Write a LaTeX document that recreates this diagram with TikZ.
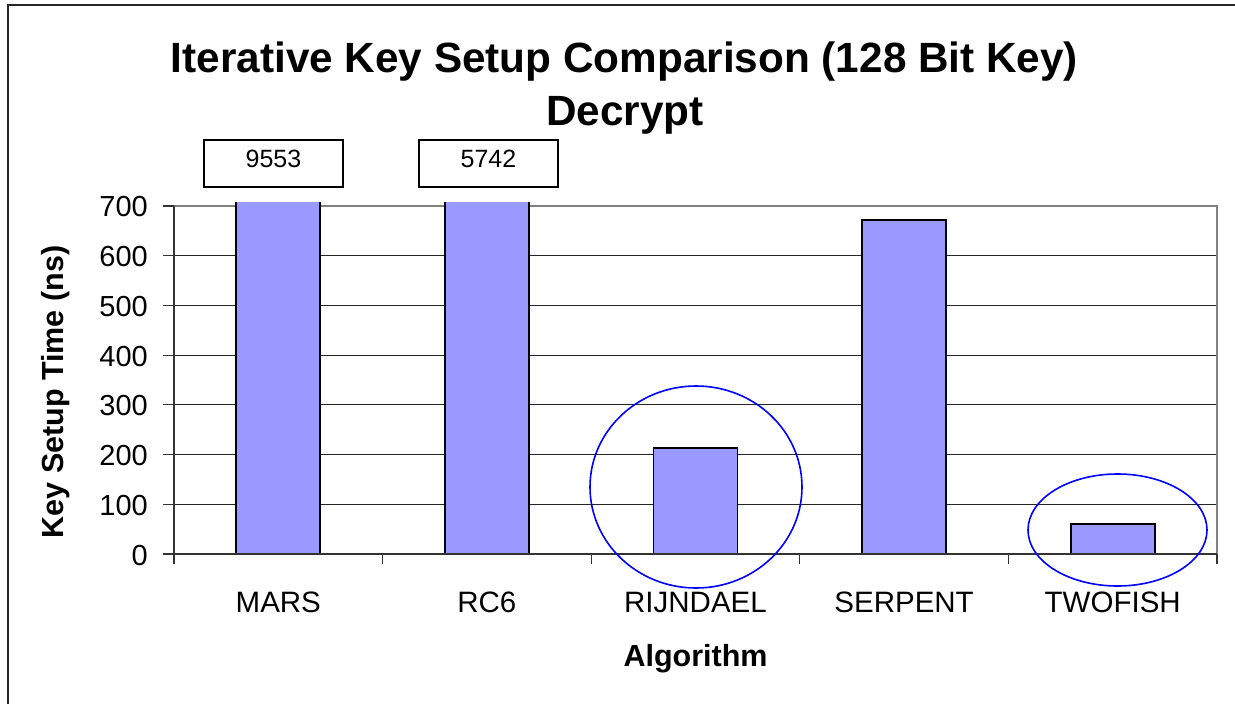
\documentclass[tikz,border=0pt]{standalone}
\usepackage{fontspec}
\setmainfont{Liberation Sans}
\definecolor{barfill}{HTML}{9999FF}
\definecolor{ringblue}{HTML}{0000FF}
\definecolor{frameline}{HTML}{808080}
\begin{document}
\begin{tikzpicture}[x=1pt,y=-1pt,
  gridline/.style={line width=1pt,black!85},
  axisline/.style={line width=1.2pt,black!80},
  plotedge/.style={line width=1.2pt,frameline},
  bar/.style={fill=barfill,draw=black,line width=1.4pt},
  ring/.style={draw=ringblue,line width=1.6pt},
  ticklabel/.style={font=\fontsize{29}{34}\selectfont,inner sep=0pt},
  catlabel/.style={font=\fontsize{29.5}{34}\selectfont,inner sep=0pt,anchor=base},
  axtitle/.style={font=\bfseries\fontsize{30.5}{36}\selectfont,inner sep=0pt,anchor=base},
  charttitle/.style={font=\bfseries\fontsize{42.3}{50}\selectfont,inner sep=0pt,anchor=base},
  valbox/.style={draw=black,line width=1.2pt,fill=white},
  valtext/.style={font=\fontsize{25}{30}\selectfont,inner sep=0pt,anchor=base}]
\useasboundingbox (0,0) rectangle (1235,704);
% outer chart frame
\draw[line width=1.5pt,black!85] (8,704) -- (8,5) -- (1235,5);

% titles
\node[charttitle] (title1) at (624.5,72) {Iterative Key Setup Comparison (128 Bit Key)};
\node[charttitle] (title2) at (625,125) {Decrypt};
\node[axtitle] (xtitle) at (695.5,666) {Algorithm};
\node[axtitle,rotate=90] (ytitle) at (63,392) {Key Setup Time (ns)};

% horizontal grid lines
\foreach \v in {100,200,...,600}
  \draw[gridline] (174,{554-\v*0.49714}) -- (1217,{554-\v*0.49714});

% plot area edge (top and right)
\draw[plotedge] (174,206) -- (1217,206) -- (1217,554);

% bars (MARS and RC6 run past the top of the scale)
\fill[barfill] (236,202) rectangle (320,554);
\draw[line width=1.4pt] (236,202) -- (236,554) -- (320,554) -- (320,202);
\fill[barfill] (445,202) rectangle (529,554);
\draw[line width=1.4pt] (445,202) -- (445,554) -- (529,554) -- (529,202);
\draw[bar] (653.5,{554-213*0.49714}) rectangle (737.5,554);
\draw[bar] (862,{554-672*0.49714}) rectangle (946,554);
\draw[bar] (1071,{554-60*0.49714}) rectangle (1155,554);

% axes
\draw[axisline] (174,206) -- (174,564);
\draw[axisline] (174,554) -- (1217,554);
\foreach \v in {0,100,...,700} {
  \draw[axisline] (163,{554-\v*0.49714}) -- (174,{554-\v*0.49714});
  \node[ticklabel,anchor=base east] (yl\v) at (148,{565-\v*0.49714}) {\v};
}
\foreach \k in {1,...,5}
  \draw[axisline] ({174+\k*208.6},554) -- ({174+\k*208.6},564);

% category labels
\node[catlabel] (cMARS) at (278.3,612) {MARS};
\node[catlabel] (cRC6) at (486.9,612) {RC6};
\node[catlabel] (cRIJ) at (695.5,612) {RIJNDAEL};
\node[catlabel] (cSER) at (904.1,612) {SERPENT};
\node[catlabel] (cTWO) at (1112.7,612) {TWOFISH};

% values of the clipped bars
\draw[valbox] (204,140) rectangle (343,187);
\node[valtext] (v1) at (273.5,167) {9553};
\draw[valbox] (419,140) rectangle (558,187);
\node[valtext] (v2) at (488.5,167) {5742};

% highlight rings
\draw[ring] (696,487) ellipse [x radius=106, y radius=101];
\draw[ring] (1117.5,530) ellipse [x radius=89.5, y radius=56];
\end{tikzpicture}
\end{document}
